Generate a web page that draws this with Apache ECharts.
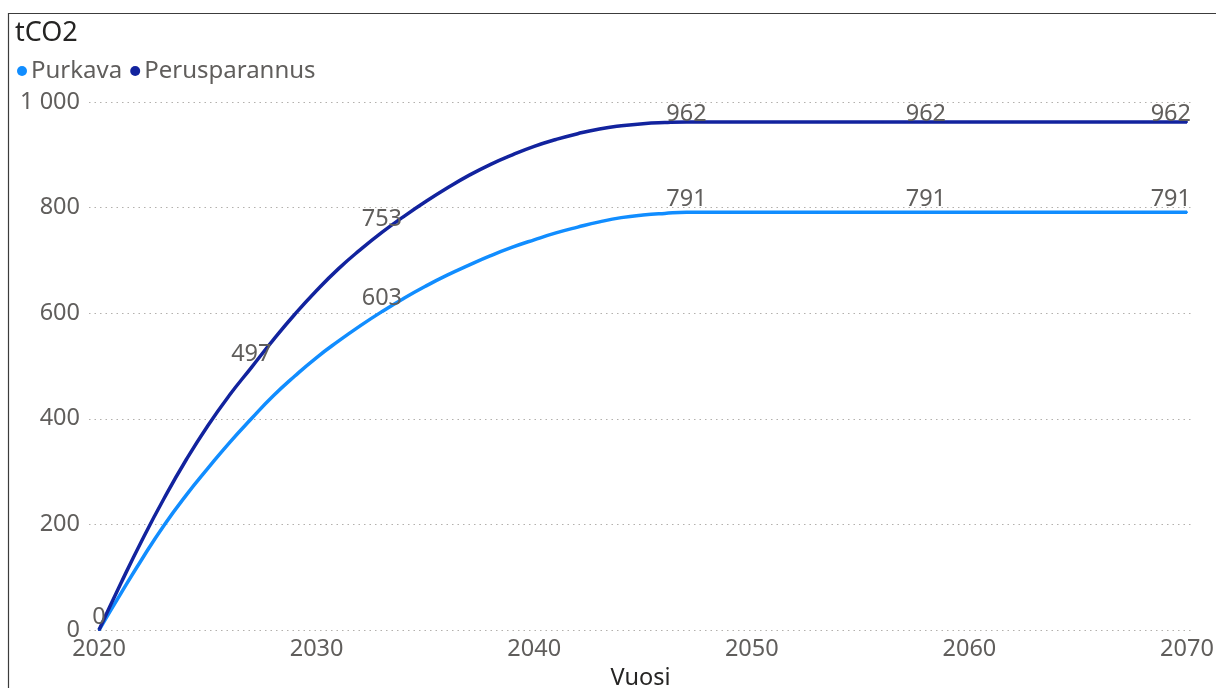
<!DOCTYPE html>
<html>
<head>
<meta charset="utf-8">
<script src="https://cdn.jsdelivr.net/npm/echarts@6/dist/echarts.min.js"></script>
<style>
  html, body { margin: 0; padding: 0; background: #ffffff; }
  #chart { width: 1216px; height: 688px; }
</style>
</head>
<body>
<div id="chart"></div>
<script>
// Cumulative emissions (tCO2) per scenario, yearly
const years = [
  2020, 2021, 2022, 2023, 2024, 2025, 2026, 2027, 2028, 2029,
  2030, 2031, 2032, 2033, 2034, 2035, 2036, 2037, 2038, 2039,
  2040, 2041, 2042, 2043, 2044, 2045, 2046, 2047, 2048, 2049,
  2050, 2051, 2052, 2053, 2054, 2055, 2056, 2057, 2058, 2059,
  2060, 2061, 2062, 2063, 2064, 2065, 2066, 2067, 2068, 2069,
  2070
];
const purkava = [
    0,  69, 136, 199, 255, 306, 355, 400, 443, 481,
  516, 547, 576, 603, 628, 651, 672, 691, 709, 725,
  739, 752, 763, 773, 781, 786, 789, 791, 791, 791,
  791, 791, 791, 791, 791, 791, 791, 791, 791, 791,
  791, 791, 791, 791, 791, 791, 791, 791, 791, 791,
  791
];
const perusparannus = [
    0,  88, 172, 250, 322, 387, 445, 497, 549, 598,
  643, 684, 720, 753, 783, 811, 837, 861, 882, 900,
  916, 929, 940, 949, 955, 959, 961, 962, 962, 962,
  962, 962, 962, 962, 962, 962, 962, 962, 962, 962,
  962, 962, 962, 962, 962, 962, 962, 962, 962, 962,
  962
];
// years whose value is written next to the line
const purkavaLabelYears = [2033, 2047, 2058, 2070];
const perusLabelYears = [2020, 2027, 2033, 2047, 2058, 2070];
const xTicks = [2020, 2030, 2040, 2050, 2060, 2070];
const yTicks = [0, 200, 400, 600, 800, 1000];

const FONT = '"Noto Sans", "Segoe UI", sans-serif';
const TEXT = '#605E5C';
const C_PURKAVA = '#118DFF';
const C_PERUS = '#12239E';
const TOP_VALUE = yTicks[yTicks.length - 1];

function buildData(values, labelYears) {
  const lastYear = years[years.length - 1];
  return years.map((yr, i) => {
    const last = yr === lastYear;
    // labels close to the top edge sit lower so they stay inside the plot
    const nearTop = values[i] > TOP_VALUE * 0.93;
    return {
      value: [yr, values[i]],
      label: {
        show: labelYears.includes(yr),
        distance: nearTop ? -5 : 0,
        align: last ? 'right' : 'center',
        offset: last ? [4, 0] : [0, 0]
      }
    };
  });
}

const chart = echarts.init(document.getElementById('chart'), null, { renderer: 'canvas' });

function lineSeries(name, color, values, labelYears) {
  return {
    name: name,
    type: 'line',
    smooth: 0.5,
    symbol: 'circle',
    symbolSize: 2,
    showSymbol: true,
    showAllSymbol: true,
    color: color,
    itemStyle: { color: color },
    lineStyle: { width: 3.5, color: color },
    label: { show: false, position: 'top', fontFamily: FONT, fontSize: 23.5, color: TEXT },
    emphasis: { disabled: true },
    data: buildData(values, labelYears)
  };
}

chart.setOption({
  animation: false,
  backgroundColor: '#ffffff',
  textStyle: { fontFamily: FONT },
  title: {
    text: 'tCO2',
    left: 10,
    top: 15,
    textStyle: { fontFamily: FONT, fontSize: 27, fontWeight: 'normal', color: '#252423' }
  },
  legend: {
    left: 12,
    top: 54,
    icon: 'circle',
    itemWidth: 10,
    itemHeight: 10,
    itemGap: 8,
    textStyle: { fontFamily: FONT, fontSize: 24, color: TEXT, padding: [0, 0, 0, -1] },
    data: [
      { name: 'Purkava', itemStyle: { color: C_PURKAVA } },
      { name: 'Perusparannus', itemStyle: { color: C_PERUS } }
    ]
  },
  // the dotted gridlines run a little past the first and last year
  grid: { left: 89, right: 24, top: 102, bottom: 58, outerBoundsMode: 'none', containLabel: false },
  xAxis: {
    type: 'value',
    min: 2019.54,
    max: 2070.23,
    name: 'Vuosi',
    nameLocation: 'middle',
    nameGap: 35,
    nameTextStyle: { fontFamily: FONT, fontSize: 23.5, color: '#252423' },
    axisLine: { show: false },
    axisTick: { show: false, customValues: xTicks },
    splitLine: { show: false },
    axisLabel: {
      fontFamily: FONT, fontSize: 23.5, color: TEXT, margin: 7,
      customValues: xTicks,
      formatter: v => String(Math.round(v))
    }
  },
  yAxis: {
    type: 'value',
    min: yTicks[0],
    max: TOP_VALUE,
    interval: yTicks[1] - yTicks[0],
    axisLine: { show: false },
    axisTick: { show: false },
    axisLabel: {
      fontFamily: FONT, fontSize: 23.5, color: TEXT, margin: 9,
      formatter: v => v >= 1000 ? String(v).replace(/\B(?=(\d{3})+(?!\d))/g, ' ') : String(v)
    },
    splitLine: { show: true, lineStyle: { type: [1.5, 4], color: '#B3B0AD', width: 1 } }
  },
  series: [
    lineSeries('Purkava', C_PURKAVA, purkava, purkavaLabelYears),
    lineSeries('Perusparannus', C_PERUS, perusparannus, perusLabelYears)
  ],
  graphic: [
    {
      type: 'rect',
      shape: { x: 8.5, y: 13.5, width: 1240, height: 700 },
      style: { fill: 'none', stroke: '#3C3C3C', lineWidth: 1.2 },
      silent: true
    }
  ]
});
</script>
</body>
</html>
